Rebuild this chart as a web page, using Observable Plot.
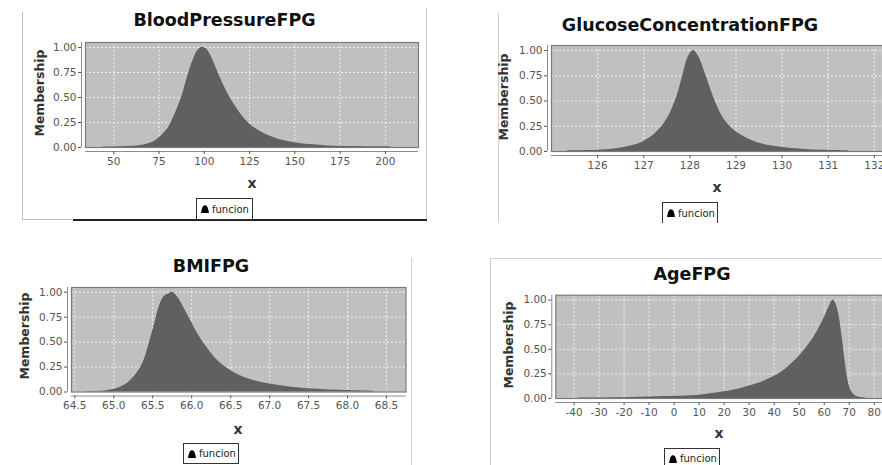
<!DOCTYPE html>
<html><head><meta charset="utf-8">
<script src="https://cdn.jsdelivr.net/npm/d3@7"></script>
<script src="https://cdn.jsdelivr.net/npm/@observablehq/plot@0.6"></script>
<style>
html,body{margin:0;padding:0;background:#fff;}
body{width:882px;height:465px;overflow:hidden;position:relative;font-family:"DejaVu Sans",sans-serif;}
.title{position:absolute;font:bold 17.5px "DejaVu Sans";color:#111;white-space:nowrap;transform:translateX(-50%);line-height:1;}
.ylab{position:absolute;font:bold 12.5px "DejaVu Sans";color:#333;white-space:nowrap;transform:translate(-50%,-50%) rotate(-90deg);line-height:1;}
.xlab{position:absolute;font:bold 14px "DejaVu Sans";color:#333;transform:translate(-50%,-50%);line-height:1;}
.legend{position:absolute;box-sizing:border-box;border:1px solid #333;font:10px "DejaVu Sans";color:#222;display:flex;align-items:center;gap:3px;padding:0 0 0 4px;background:#fff;white-space:nowrap;}
.line{position:absolute;}
</style></head><body>
<script>
// ---- data ----
const bpX = [44,55,60,65,68,71,74,77,79.5,82,84,86,88,90,92,94,96,98,99.5,101,103,106,109,112,115,118,121,125,130,135,140,145,150,155,160,165,172,180,190,203];
const bpY = [0.006,0.008,0.012,0.02,0.03,0.05,0.08,0.13,0.18,0.26,0.34,0.43,0.53,0.66,0.78,0.88,0.96,0.995,1.0,0.99,0.94,0.82,0.69,0.575,0.475,0.39,0.315,0.235,0.17,0.122,0.088,0.065,0.048,0.035,0.027,0.02,0.013,0.009,0.007,0.006];

const gcX = [125.34,125.8,126.09,126.45,126.82,127.0,127.18,127.36,127.54,127.72,127.86,127.97,128.08,128.19,128.33,128.51,128.69,128.91,129.16,129.49,129.99,130.43,130.9,131.45];
const gcY = [0.006,0.009,0.016,0.03,0.066,0.10,0.15,0.23,0.35,0.545,0.775,0.94,1.0,0.94,0.775,0.545,0.36,0.23,0.15,0.083,0.043,0.023,0.012,0.007];

const bmiX = [64.65,64.88,65.06,65.18,65.29,65.38,65.46,65.53,65.59,65.65,65.70,65.75,65.82,65.91,66.0,66.08,66.21,66.34,66.51,66.72,67.02,67.45,67.88,68.34];
const bmiY = [0.006,0.01,0.04,0.09,0.18,0.30,0.5,0.7,0.87,0.96,0.98,1.0,0.95,0.83,0.7,0.58,0.43,0.31,0.21,0.134,0.077,0.034,0.017,0.007];

const ageX = [-38,-20,-6,0,10,20,26.5,30,35,40,43,46,50,53,56.5,60,62.5,63.5,64.5,65.8,67.2,68.5,69.8,71.2,73.2,76.5];
const ageY = [0.006,0.008,0.017,0.022,0.034,0.068,0.1,0.126,0.165,0.225,0.27,0.33,0.43,0.52,0.65,0.82,0.96,1.0,0.97,0.86,0.62,0.35,0.15,0.06,0.017,0.006];

const bpTicks = [50,75,100,125,150,175,200];
const gcTicks = [126,127,128,129,130,131,132];
const bmiTicks = [64.5,65.0,65.5,66.0,66.5,67.0,67.5,68.0,68.5];
const ageTicks = [-40,-30,-20,-10,0,10,20,30,40,50,60,70,80];
const yTicks = [0,0.25,0.5,0.75,1];

const titles = ["BloodPressureFPG","GlucoseConcentrationFPG","BMIFPG","AgeFPG"];
const yLabel = "Membership";
const xLabel = "x";
const seriesName = "funcion";

// ---- layout ----
const panels = [
  {title:titles[0], xs:bpX, ys:bpY, ticks:bpTicks, fmt:d=>String(d),
   svg:{left:0, top:0, width:440, height:180}, frame:{left:85, right:418, top:42, bottom:147},
   xDomain:[34.4,218.3], yDomain:[0,1.05],
   titlePos:[224.5,12], ylabPos:[40,93], xlabPos:[252,183], legend:{left:196, top:198, width:57, height:22, bottom:true}},
  {title:titles[1], xs:gcX, ys:gcY, ticks:gcTicks, fmt:d=>String(d),
   svg:{left:441, top:0, width:470, height:185}, frame:{left:551, right:884, top:45, bottom:151},
   xDomain:[125.0,132.22], yDomain:[0,1.05],
   titlePos:[690,17], ylabPos:[504,97], xlabPos:[717,187], legend:{left:662, top:202, width:56, height:21, bottom:false}},
  {title:titles[2], xs:bmiX, ys:bmiY, ticks:bmiTicks, fmt:d=>d.toFixed(1),
   svg:{left:0, top:250, width:430, height:170}, frame:{left:71, right:405.5, top:287, bottom:391.5},
   xDomain:[64.458,68.75], yDomain:[0,1.047],
   titlePos:[211,258], ylabPos:[25,336], xlabPos:[238,429], legend:{left:183, top:443, width:56, height:21, bottom:true}},
  {title:titles[3], xs:ageX, ys:ageY, ticks:ageTicks, fmt:d=>String(d),
   svg:{left:441, top:250, width:470, height:180}, frame:{left:555.3, right:884, top:294.7, bottom:398},
   xDomain:[-47.3,84.1], yDomain:[0,1.05],
   titlePos:[692,266], ylabPos:[509,345], xlabPos:[719,433], legend:{left:664, top:448, width:56, height:20, bottom:false}}
];

function addDiv(cls, text, styles){
  const d = document.createElement("div");
  if (cls) d.className = cls;
  if (text != null) d.textContent = text;
  Object.assign(d.style, styles);
  document.body.appendChild(d);
  return d;
}

// panel borders (screenshot edges)
addDiv("line", null, {left:"22px", top:"12px", width:"1px", height:"208px", background:"#bdbdbd"});
addDiv("line", null, {left:"426px", top:"8px", width:"1px", height:"212px", background:"#cfcfcf"});
addDiv("line", null, {left:"22px", top:"219px", width:"51px", height:"1px", background:"#bdbdbd"});
addDiv("line", null, {left:"73px", top:"219px", width:"354px", height:"2px", background:"#222"});
addDiv("line", null, {left:"498px", top:"13px", width:"1px", height:"209px", background:"#cfcfcf"});
addDiv("line", null, {left:"411px", top:"258px", width:"1px", height:"207px", background:"#cfcfcf"});
addDiv("line", null, {left:"490px", top:"258px", width:"1px", height:"207px", background:"#cfcfcf"});
addDiv("line", null, {left:"490px", top:"258px", width:"392px", height:"1px", background:"#cfcfcf"});

for (const p of panels) {
  const data = p.xs.map((x,i)=>({x, y:p.ys[i]}));
  const s = p.svg, f = p.frame;
  const chart = Plot.plot({
    width: s.width, height: s.height,
    marginLeft: f.left - s.left, marginRight: s.left + s.width - f.right,
    marginTop: f.top - s.top, marginBottom: s.top + s.height - f.bottom,
    x: {domain: p.xDomain},
    y: {domain: p.yDomain},
    style: {background:"transparent", fontFamily:"DejaVu Sans", fontSize:"10.5px", color:"#555", overflow:"visible"},
    marks: [
      Plot.frame({fill:"#c0c0c0"}),
      Plot.gridX(p.ticks, {stroke:"#ffffff", strokeOpacity:0.75, strokeDasharray:"2,2"}),
      Plot.gridY(yTicks, {stroke:"#ffffff", strokeOpacity:0.75, strokeDasharray:"2,2"}),
      Plot.areaY(data, {x:"x", y:"y", fill:"#606060", curve:"catmull-rom"}),
      Plot.frame({stroke:"#7a7a7a", strokeWidth:1.2}),
      Plot.ruleY([p.yDomain[0]], {dy:4, stroke:"#8c8c8c"}),
      Plot.ruleX([p.xDomain[0]], {dx:-4, stroke:"#8c8c8c"}),
      Plot.axisX(p.ticks, {dy:4, tickSize:3, tickPadding:3, tickFormat:p.fmt, label:null}),
      Plot.axisY(yTicks, {dx:-4, tickSize:3, tickPadding:2, tickFormat:d3.format(".2f"), label:null})
    ]
  });
  chart.style.position = "absolute";
  chart.style.left = s.left + "px";
  chart.style.top = s.top + "px";
  document.body.appendChild(chart);

  addDiv("title", p.title, {left:p.titlePos[0]+"px", top:p.titlePos[1]+"px"});
  addDiv("ylab", yLabel, {left:p.ylabPos[0]+"px", top:p.ylabPos[1]+"px"});
  addDiv("xlab", xLabel, {left:p.xlabPos[0]+"px", top:p.xlabPos[1]+"px"});
  const L = p.legend;
  const lg = addDiv("legend", null, {left:L.left+"px", top:L.top+"px", width:L.width+"px", height:L.height+"px", borderBottom: L.bottom ? "1px solid #333" : "none"});
  lg.innerHTML = '<svg width="8" height="8" viewBox="0 0 8 8"><path d="M0,8 L0.6,5 Q1.5,0.3 4,0.3 Q6.5,0.3 7.4,5 L8,8 Z" fill="#000"/></svg><span>' + seriesName + '</span>';
}
</script></body></html>
